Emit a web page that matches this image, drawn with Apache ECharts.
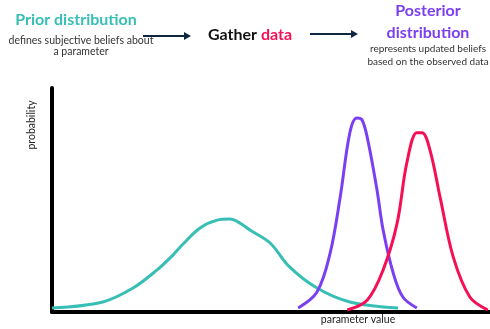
<!DOCTYPE html>
<html>
<head>
<meta charset="utf-8">
<script src="https://cdn.jsdelivr.net/npm/echarts@6/dist/echarts.min.js"></script>
<style>
  html, body { margin: 0; padding: 0; background: #fff; }
  #chart { width: 490px; height: 329px; }
</style>
</head>
<body>
<div id="chart"></div>
<script>
// parameter value (0..100) and probability (0..1)
const priorX = [0, 11.6, 18.5, 24, 27.6, 29.7, 33.8, 37.7, 40.6, 42.9, 45.2, 49.8, 54.3, 60.5, 68, 79];
const priorY = [0.018, 0.045, 0.107, 0.188, 0.254, 0.299, 0.375, 0.41, 0.415, 0.397, 0.366, 0.308, 0.2, 0.107, 0.045, 0.018];

const posteriorX = [56.2, 60.5, 63.5, 65.8, 68, 69.6, 70.8, 72.1, 74.2, 75.6, 77.9, 80.1, 83.3];
const posteriorY = [0.018, 0.089, 0.263, 0.513, 0.8, 0.866, 0.857, 0.768, 0.545, 0.366, 0.174, 0.067, 0.018];

const dataX = [67.4, 72, 75.6, 78.8, 81, 83.3, 84.5, 86.3, 88.6, 91.6, 95.4, 99.5];
const dataY = [0.009, 0.054, 0.188, 0.397, 0.665, 0.8, 0.8, 0.723, 0.513, 0.246, 0.067, 0.009];

const teal = '#38BFB5';
const purple = '#7B3FF2';
const crimson = '#F50F55';
const navy = '#0E2841';
const font = 'Lato, "Open Sans", sans-serif';

const zip = (xs, ys) => xs.map((x, i) => [x, ys[i]]);

const chart = echarts.init(document.getElementById('chart'), null, { renderer: 'canvas' });

const lineSeries = (name, xs, ys, c) => ({
  name,
  type: 'line',
  data: zip(xs, ys),
  smooth: 0.35,
  showSymbol: false,
  symbol: 'none',
  clip: false,
  lineStyle: { color: c, width: 3 },
});

const axisBase = {
  type: 'value',
  axisLine: { show: true, onZero: false, lineStyle: { color: '#000', width: 4 } },
  axisTick: { show: false },
  axisLabel: { show: false },
  splitLine: { show: false },
};

chart.setOption({
  animation: false,
  grid: { left: 52, right: 0, top: 88, bottom: 17, outerBoundsMode: 'none', containLabel: false },
  xAxis: { ...axisBase, min: 0, max: 100 },
  yAxis: { ...axisBase, min: 0, max: 1 },
  series: [
    lineSeries('prior', priorX, priorY, teal),
    lineSeries('posterior', posteriorX, posteriorY, purple),
    lineSeries('data', dataX, dataY, crimson),
  ],
  graphic: [
    // axis names
    { type: 'text', x: 358, y: 320, style: { text: 'parameter value', fill: '#222', font: '10.5px ' + font, textAlign: 'center', textVerticalAlign: 'middle' } },
    { type: 'text', x: 32, y: 125, rotation: Math.PI / 2, style: { text: 'probability', fill: '#222', font: '10.5px ' + font, textAlign: 'center', textVerticalAlign: 'middle' } },
    // header
    { type: 'text', x: 76, y: 20, style: { text: 'Prior distribution', fill: teal, font: 'bold 16px ' + font, textAlign: 'center', textVerticalAlign: 'middle' } },
    { type: 'text', x: 81, y: 46, style: { text: 'defines subjective beliefs about\na parameter', fill: '#333', font: '10.5px ' + font, textAlign: 'center', textVerticalAlign: 'middle', lineHeight: 11 } },
    { type: 'line', shape: { x1: 143, y1: 36, x2: 186, y2: 36 }, style: { stroke: navy, lineWidth: 2 } },
    { type: 'polygon', shape: { points: [[184, 32], [191, 36], [184, 40]] }, style: { fill: navy } },
    {
      type: 'text', x: 250, y: 35,
      style: {
        text: '{a|Gather }{b|data}',
        textAlign: 'center',
        textVerticalAlign: 'middle',
        rich: {
          a: { fill: '#111', font: 'bold 16px ' + font },
          b: { fill: crimson, font: 'bold 16px ' + font },
        },
      },
    },
    { type: 'line', shape: { x1: 310, y1: 34, x2: 353, y2: 34 }, style: { stroke: navy, lineWidth: 2 } },
    { type: 'polygon', shape: { points: [[351, 30], [358, 34], [351, 38]] }, style: { fill: navy } },
    { type: 'text', x: 428, y: 22, style: { text: 'Posterior\ndistribution', fill: purple, font: 'bold 16px ' + font, textAlign: 'center', textVerticalAlign: 'middle', lineHeight: 22 } },
    { type: 'text', x: 428, y: 55, style: { text: 'represents updated beliefs\nbased on the observed data', fill: '#333', font: '10px ' + font, textAlign: 'center', textVerticalAlign: 'middle', lineHeight: 13 } },
  ],
});
</script>
</body>
</html>
